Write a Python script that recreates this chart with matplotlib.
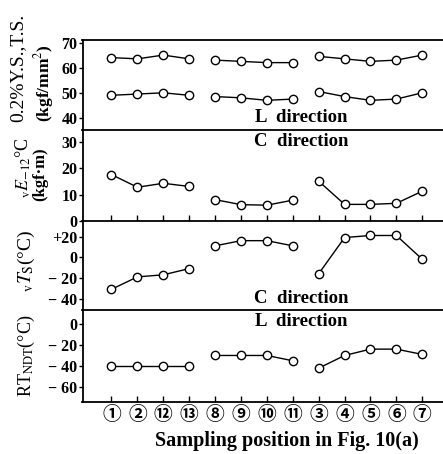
import matplotlib
matplotlib.use("Agg")
import matplotlib.pyplot as plt

plt.rcParams['font.family'] = ['Liberation Serif', 'DejaVu Serif', 'Noto Sans CJK JP']
plt.rcParams['mathtext.fontset'] = 'stix'

# sampling positions (x order as in the figure)
positions = ['①', '②', '⑫', '⑬', '⑧', '⑨', '⑩', '⑪', '③', '④', '⑤', '⑥', '⑦']
groups = [[0, 1, 2, 3], [4, 5, 6, 7], [8, 9, 10, 11, 12]]

# L direction, kgf/mm2
ts = [64, 63.5, 65, 63.5, 63, 62.5, 62, 62, 64.5, 63.5, 62.5, 63, 65]
ys = [49, 49.5, 50, 49, 48.5, 48, 47, 47.5, 50.5, 48.5, 47, 47.5, 50]
# C direction, kgf.m
ve = [17.6, 12.8, 14.3, 13.1, 8.1, 6.2, 6.0, 7.9, 15.1, 6.3, 6.3, 6.7, 11.3]
# C direction, degC
vts = [-31, -19, -17, -11, 11, 16, 16, 11, -16, 19, 21, 21, -2]
# L direction, degC
rtndt = [-40, -40, -40, -40, -30, -30, -30, -35, -42, -30, -24, -24, -29]

W, H = 443, 454
fig = plt.figure(figsize=(W / 100, H / 100), dpi=100)

left = 83 / W
right = 1.0
edges = [40, 130, 221, 310, 402]  # pixel rows of panel borders
text_x = (301 / W - left) / (right - left)  # "direction" labels sit right of centre


def make_ax(i):
    top, bot = edges[i], edges[i + 1]
    ax = fig.add_axes([left, 1 - bot / H, right - left, (bot - top) / H])
    ax.set_xlim(-1.1, 12.8)
    for s in ['right', 'bottom', 'top']:
        ax.spines[s].set_visible(False)
    ax.spines['left'].set_linewidth(1.3)
    ax.tick_params(axis='y', direction='out', length=3, width=1, pad=1, labelsize=11.5)
    ax.tick_params(axis='x', which='both', bottom=False, labelbottom=False)
    return ax


def plot_series(ax, vals):
    for g in groups:
        ax.plot(g, [vals[k] for k in g], '-o', color='black', lw=1.0,
                ms=6, mfc='white', mec='black', mew=1.0, zorder=3)


# lines between panels
for y in edges:
    fig.add_artist(plt.Line2D([left - 0.003, 1.0], [1 - y / H, 1 - y / H],
                              color='black', lw=1.3))

# panel 1: YS, TS
ax1 = make_ax(0)
ax1.set_ylim(35.2, 71)
ax1.set_yticks([40, 50, 60, 70])
plot_series(ax1, ts)
plot_series(ax1, ys)
ax1.text(text_x, 0.05, 'L  direction', transform=ax1.transAxes, ha='center', va='bottom',
         fontsize=13.5, fontweight='bold')

# panel 2: vE-12
ax2 = make_ax(1)
ax2.set_ylim(0, 34.5)
ax2.set_yticks([0, 10, 20, 30])
plot_series(ax2, ve)
ax2.text(text_x, 0.97, 'C  direction', transform=ax2.transAxes, ha='center', va='top',
         fontsize=13.5, fontweight='bold')
ax2.set_xticks(range(len(positions)))
ax2.tick_params(axis='x', bottom=True, direction='in', length=4, width=1)

# panel 3: vTs
ax3 = make_ax(2)
ax3.set_ylim(-51, 35)
ax3.set_yticks([20, 0, -20, -40])
ax3.set_yticklabels(['+20', '0', '\u2212 20', '\u2212 40'])
plot_series(ax3, vts)
ax3.text(text_x, 0.03, 'C  direction', transform=ax3.transAxes, ha='center', va='bottom',
         fontsize=13.5, fontweight='bold')

# panel 4: RT_NDT
ax4 = make_ax(3)
ax4.set_ylim(-74, 13)
ax4.set_yticks([0, -20, -40, -60])
ax4.set_yticklabels(['0', '\u2212 20', '\u2212 40', '\u2212 60'])
plot_series(ax4, rtndt)
ax4.text(text_x, 0.97, 'L  direction', transform=ax4.transAxes, ha='center', va='top',
         fontsize=13.5, fontweight='bold')
ax4.set_xticks(range(len(positions)))
ax4.set_xticklabels(positions, fontweight='bold')
ax4.tick_params(axis='x', bottom=True, labelbottom=True, direction='in',
                length=4, width=1, pad=3, labelsize=13.5)

for ax in [ax1, ax2, ax3, ax4]:
    for lab in ax.get_yticklabels():
        lab.set_fontweight('bold')

# y labels
fig.text(18 / W, 1 - 68 / H, '0.2%Y.S.,T.S.', rotation=90, ha='center', va='center',
         fontsize=14)
fig.text(44 / W, 1 - 83 / H, '(kgf/mm$^2$)', rotation=90, ha='center', va='center',
         fontsize=12.5, fontweight='bold')
fig.text(23 / W, 1 - 168 / H, r'$_{\rm v}E_{-12}$°C', rotation=90, ha='center', va='center',
         fontsize=13)
fig.text(40 / W, 1 - 174 / H, '(kgf·m)', rotation=90, ha='center', va='center',
         fontsize=12, fontweight='bold')
fig.text(26 / W, 1 - 261 / H, r'$_{\rm v}T_{\rm S}$(°C)', rotation=90, ha='center',
         va='center', fontsize=14)
fig.text(26 / W, 1 - 356 / H, r'RT$_{\rm NDT}$(°C)', rotation=90, ha='center',
         va='center', fontsize=13)

fig.text(287 / W, 1 - 441 / H, 'Sampling position in Fig. 10(a)', ha='center', va='center',
         fontsize=14.5, fontweight='bold')

fig.savefig('out.png', dpi=100)
